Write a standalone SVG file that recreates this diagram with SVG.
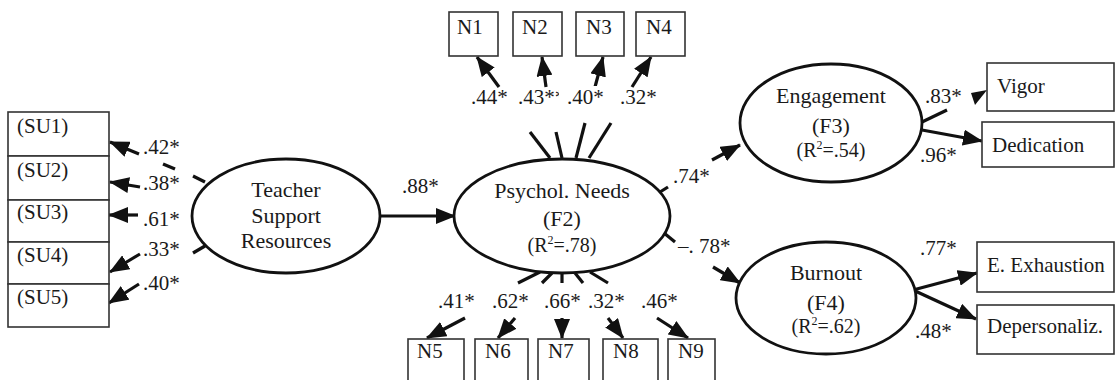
<svg xmlns="http://www.w3.org/2000/svg" width="1116" height="380" viewBox="0 0 1116 380">
<defs>
<marker id="ah" markerUnits="userSpaceOnUse" markerWidth="20" markerHeight="16" refX="19" refY="8" orient="auto" viewBox="0 0 20 16">
<path d="M0,0 L20,8 L0,16 z" fill="#111"/>
</marker>
</defs>
<style>
text{font-family:"Liberation Serif","Times New Roman",serif;fill:#1a1a1a;}
.lbl{font-size:21px;}
.bx{fill:#fff;stroke:#333;stroke-width:1.6;}
.el{fill:#fff;stroke:#111;stroke-width:2.8;}
.t{font-size:22px;text-anchor:middle;}
.r{font-size:20px;text-anchor:middle;}
.sup{font-size:12px;}
.c line{stroke:#111;stroke-width:3.2;}
.c .a{marker-end:url(#ah);}
</style>
<rect width="1116" height="380" fill="#fff"/>

<g id="connectors" class="c">
<line x1="163" y1="164" x2="175" y2="169"/>
<line x1="193" y1="176" x2="205" y2="182"/>
<line class="a" x1="139" y1="154" x2="110" y2="142"/>
<line class="a" x1="140" y1="187" x2="110" y2="182"/>
<line class="a" x1="138" y1="215" x2="109" y2="215"/>
<line class="a" x1="140" y1="254" x2="110" y2="272"/>
<line class="a" x1="139" y1="284" x2="109" y2="303"/>
<line x1="193" y1="253" x2="205" y2="246"/>
<line class="a" x1="380" y1="216" x2="455" y2="216"/>
<line x1="550" y1="158" x2="530" y2="132"/>
<line x1="562" y1="158" x2="556" y2="132"/>
<line x1="576" y1="158" x2="585" y2="123"/>
<line x1="589" y1="158" x2="611" y2="123"/>
<line class="a" x1="499" y1="87" x2="477" y2="57"/>
<line class="a" x1="546" y1="87" x2="542" y2="57"/>
<line class="a" x1="595" y1="87" x2="603" y2="57"/>
<line class="a" x1="632" y1="87" x2="651" y2="57"/>
<line x1="540" y1="272" x2="518" y2="283"/>
<line x1="552" y1="273" x2="542" y2="283"/>
<line x1="562" y1="273" x2="562" y2="283"/>
<line x1="575" y1="273" x2="583" y2="283"/>
<line x1="590" y1="272" x2="608" y2="283"/>
<line class="a" x1="465" y1="318" x2="427" y2="338"/>
<line class="a" x1="515" y1="318" x2="498" y2="338"/>
<line class="a" x1="562" y1="318" x2="562" y2="338"/>
<line class="a" x1="608" y1="318" x2="623" y2="338"/>
<line class="a" x1="657" y1="318" x2="688" y2="338"/>
<line x1="660" y1="192" x2="668" y2="187"/>
<line class="a" x1="712" y1="160" x2="740" y2="145"/>
<line x1="664" y1="233" x2="675" y2="242"/>
<line class="a" x1="713" y1="267" x2="740" y2="283"/>
<line x1="922" y1="122" x2="947" y2="110"/>
<polygon points="971,93 987,90 975,105" fill="#111"/>
<line class="a" x1="922" y1="130" x2="982" y2="141"/>
<line class="a" x1="913" y1="290" x2="977" y2="273"/>
<line class="a" x1="913" y1="290" x2="976" y2="319"/>
</g>

<g id="labels" class="lbl">
<text x="143" y="154">.42*</text>
<text x="143" y="190">.38*</text>
<text x="143" y="226">.61*</text>
<text x="143" y="256">.33*</text>
<text x="143" y="290">.40*</text>
<text x="402" y="193">.88*</text>
<text x="471" y="104">.44*</text>
<text x="518" y="104">.43**</text>
<rect x="559" y="86" width="44" height="22" fill="#fff"/>
<text x="567" y="104">.40*</text>
<text x="620" y="104">.32*</text>
<text x="438" y="308">.41*</text>
<text x="492" y="308">.62*</text>
<text x="544" y="308">.66*</text>
<text x="588" y="308">.32*</text>
<text x="641" y="308">.46*</text>
<text x="673" y="183">.74*</text>
<text x="678" y="253">–. 78*</text>
<text x="925" y="103">.83*</text>
<text x="920" y="162">.96*</text>
<text x="920" y="255">.77*</text>
<text x="915" y="338">.48*</text>
</g>

<g id="SU1"><rect class="bx" x="8" y="112" width="101" height="44"/><text class="lbl" x="17" y="133">(SU1)</text></g>
<g id="SU2"><rect class="bx" x="8" y="156" width="101" height="44"/><text class="lbl" x="17" y="177">(SU2)</text></g>
<g id="SU3"><rect class="bx" x="8" y="200" width="101" height="42"/><text class="lbl" x="17" y="219">(SU3)</text></g>
<g id="SU4"><rect class="bx" x="8" y="242" width="101" height="42"/><text class="lbl" x="17" y="262">(SU4)</text></g>
<g id="SU5"><rect class="bx" x="8" y="284" width="101" height="43"/><text class="lbl" x="17" y="304">(SU5)</text></g>

<g id="N1"><rect class="bx" x="449" y="12" width="49" height="44"/><text class="lbl" x="457" y="34">N1</text></g>
<g id="N2"><rect class="bx" x="513" y="12" width="49" height="44"/><text class="lbl" x="522" y="34">N2</text></g>
<g id="N3"><rect class="bx" x="576" y="12" width="48" height="44"/><text class="lbl" x="586" y="34">N3</text></g>
<g id="N4"><rect class="bx" x="636" y="12" width="49" height="44"/><text class="lbl" x="646" y="34">N4</text></g>

<g id="N5"><rect class="bx" x="408" y="339" width="56" height="60"/><text class="lbl" x="417" y="358">N5</text></g>
<g id="N6"><rect class="bx" x="475" y="339" width="53" height="60"/><text class="lbl" x="485" y="358">N6</text></g>
<g id="N7"><rect class="bx" x="538" y="339" width="51" height="60"/><text class="lbl" x="548" y="358">N7</text></g>
<g id="N8"><rect class="bx" x="603" y="339" width="55" height="60"/><text class="lbl" x="613" y="358">N8</text></g>
<g id="N9"><rect class="bx" x="668" y="339" width="47" height="60"/><text class="lbl" x="678" y="358">N9</text></g>

<g id="Teacher">
<ellipse class="el" cx="286" cy="216" rx="94" ry="57"/>
<text class="t" x="286" y="197">Teacher</text>
<text class="t" x="286" y="223">Support</text>
<text class="t" x="286" y="248">Resources</text>
</g>

<g id="F2">
<ellipse class="el" cx="562" cy="216" rx="108" ry="57"/>
<text class="t" x="562" y="198">Psychol. Needs</text>
<text class="t" x="562" y="226">(F2)</text>
<text class="r" x="562" y="252">(R<tspan class="sup" dy="-8">2</tspan><tspan dy="8">=.78)</tspan></text>
</g>

<g id="F3">
<ellipse class="el" cx="831" cy="123" rx="91" ry="59"/>
<text class="t" x="831" y="103">Engagement</text>
<text class="t" x="831" y="133">(F3)</text>
<text class="r" x="831" y="157">(R<tspan class="sup" dy="-8">2</tspan><tspan dy="8">=.54)</tspan></text>
</g>

<g id="F4">
<ellipse class="el" cx="826" cy="298" rx="90" ry="56"/>
<text class="t" x="826" y="280">Burnout</text>
<text class="t" x="826" y="310">(F4)</text>
<text class="r" x="826" y="333">(R<tspan class="sup" dy="-8">2</tspan><tspan dy="8">=.62)</tspan></text>
</g>

<g id="Vigor"><rect class="bx" x="987" y="63" width="127" height="48"/><text class="lbl" x="997" y="93">Vigor</text></g>
<g id="Dedication"><rect class="bx" x="982" y="122" width="132" height="45"/><text class="lbl" x="992" y="152">Dedication</text></g>
<g id="Exhaustion"><rect class="bx" x="977" y="242" width="137" height="50"/><text class="lbl" x="987" y="272">E. Exhaustion</text></g>
<g id="Depersonalization"><rect class="bx" x="977" y="305" width="137" height="49"/><text class="lbl" x="987" y="333">Depersonaliz.</text></g>
</svg>
